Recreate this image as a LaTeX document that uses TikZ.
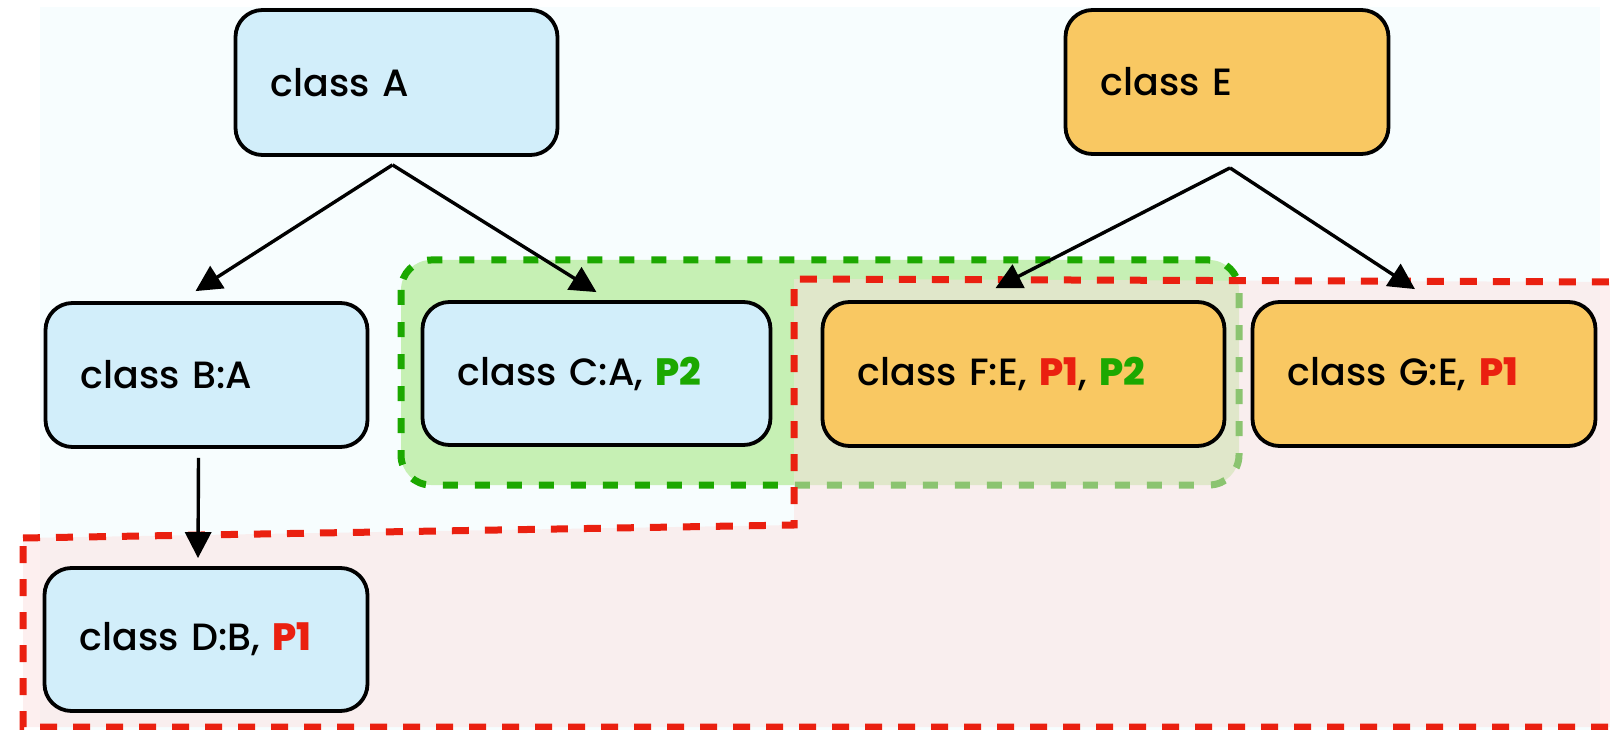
\documentclass[tikz,border=0pt]{standalone}
\usepackage{fontspec}
\setmainfont{Poppins}[UprightFont=* Medium, BoldFont=* ExtraBold]
\usetikzlibrary{arrows.meta}
\definecolor{bgc}{RGB}{247,253,254}
\definecolor{nblue}{RGB}{210,238,250}
\definecolor{norange}{RGB}{249,200,98}
\definecolor{pred}{RGB}{234,32,16}
\definecolor{pgreen}{RGB}{28,168,0}
\definecolor{gfill}{RGB}{198,240,180}
\definecolor{rfill}{RGB}{251,224,224}
\tikzset{
  cls/.style={draw=black, line width=3.8pt, rounded corners=27pt, align=left,
    inner xsep=35pt, inner ysep=0pt, font=\fontsize{38}{44}\selectfont},
  bluebox/.style={cls, fill=nblue},
  orangebox/.style={cls, fill=norange},
  arr/.style={line width=3.4pt, -{Triangle[length=26pt,width=26pt]}},
  gregion/.style={fill=gfill, draw=pgreen, line width=7pt, dash pattern=on 15pt off 17pt, rounded corners=30pt},
  rregionfill/.style={fill=rfill, fill opacity=0.5},
  rregionline/.style={draw=pred, line width=7pt, dash pattern=on 17pt off 16pt},
}
\newcommand{\pone}{\textbf{\color{pred}P1}}
\newcommand{\ptwo}{\textbf{\color{pgreen}P2}}
\begin{document}
\begin{tikzpicture}[x=1pt,y=-1pt]
\useasboundingbox (0,0) rectangle (1610,730);
\clip (0,0) rectangle (1610,730);
% background
\fill[bgc] (40,7) rectangle (1600,730);
% green group
\draw[gregion] (401,260) rectangle (1239,485);
% red group
\fill[rregionfill] (23,538) -- (794,525) -- (794,279) -- (1625,282) -- (1625,727) -- (23,727) -- cycle;
\draw[rregionline] (23,538) -- (794,525) -- (794,279) -- (1625,282) -- (1625,727) -- (23,727) -- cycle;
% nodes
\node[bluebox, text width=252pt, minimum height=145pt] (A) at (396.5,82.5) {class A};
\node[orangebox, text width=253pt, minimum height=144pt] (E) at (1227,82) {class E};
\node[bluebox, text width=252pt, minimum height=144pt] (B) at (206.5,375) {class B:A};
\node[bluebox, text width=278pt, minimum height=143pt] (C) at (596.5,373.5) {class C:A, \ptwo};
\node[orangebox, text width=332pt, minimum height=144pt] (F) at (1023.5,374) {class F:E, \pone, \ptwo};
\node[orangebox, text width=273pt, minimum height=144pt] (G) at (1424,374) {class G:E, \pone};
\node[bluebox, text width=253pt, minimum height=143pt] (D) at (206,639.5) {class D:B, \pone};
% connectors
\draw[arr] ([xshift=-4pt,yshift=-8pt]A.south) -- ([xshift=-11pt,yshift=10pt]B.north);
\draw[arr] ([xshift=-4pt,yshift=-8pt]A.south) -- ([yshift=8pt]C.north);
\draw[arr] ([xshift=3pt,yshift=-12pt]E.south) -- ([xshift=-28pt,yshift=12pt]F.north);
\draw[arr] ([xshift=3pt,yshift=-12pt]E.south) -- ([xshift=-9pt,yshift=11pt]G.north);
\draw[arr] ([xshift=-8pt,yshift=-9pt]B.south) -- ([xshift=-8pt,yshift=8pt]D.north);
\end{tikzpicture}
\end{document}
